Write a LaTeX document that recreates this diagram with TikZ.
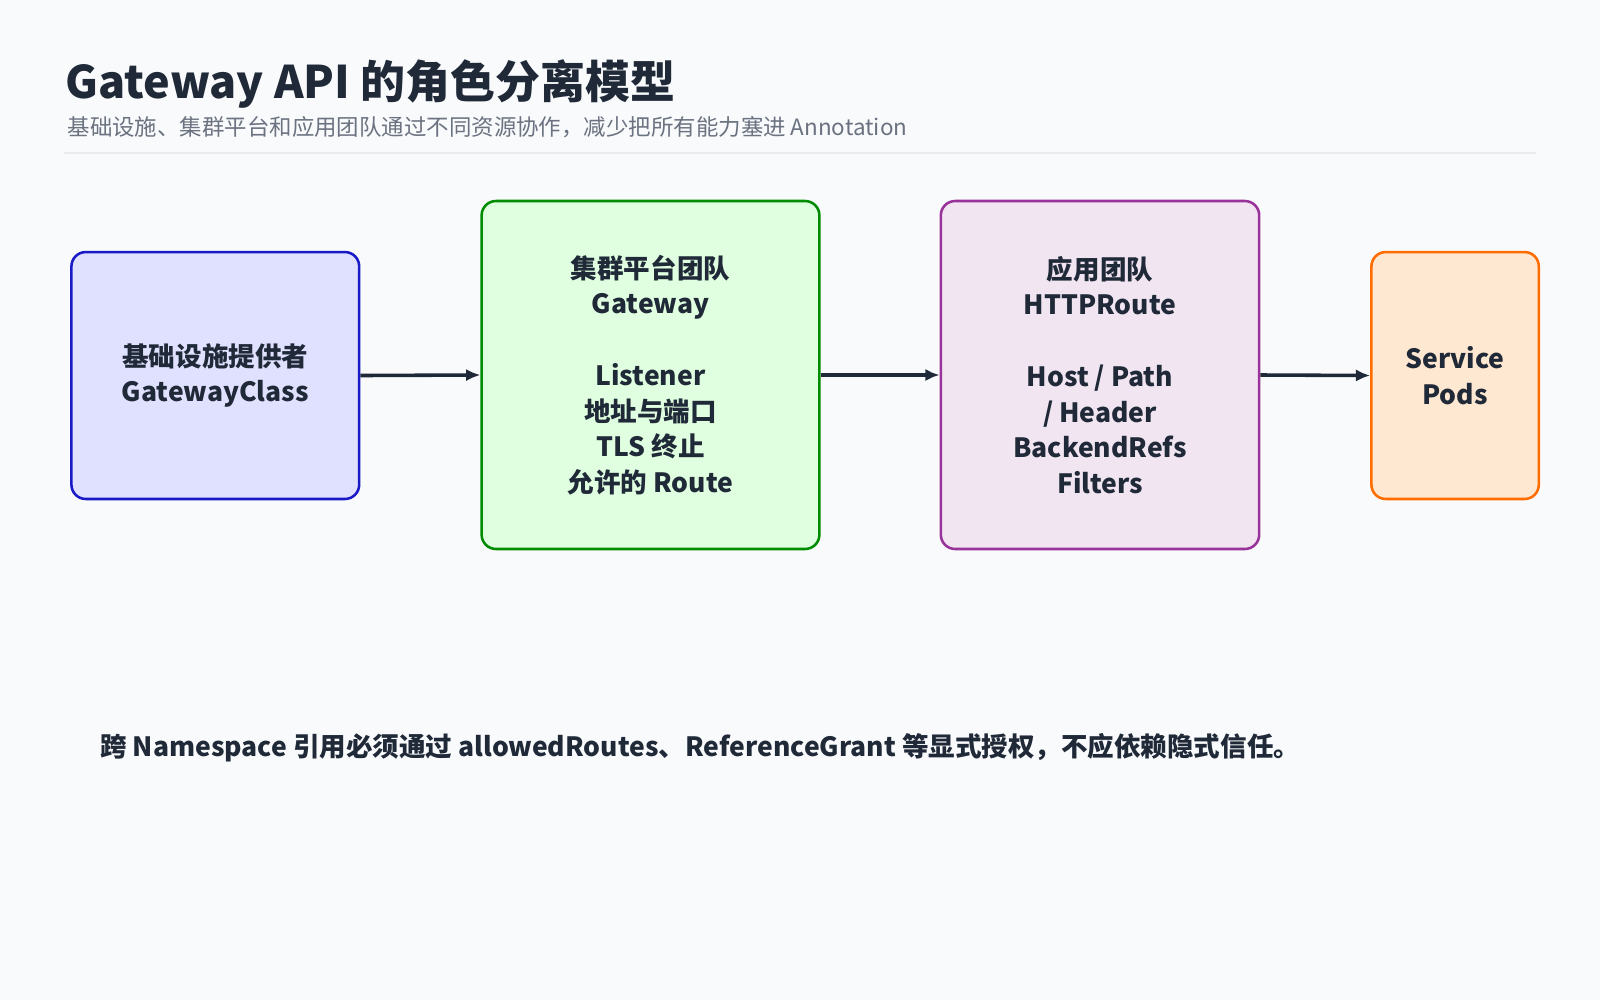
\documentclass[tikz,border=0pt]{standalone}
\usepackage{fontspec}
\setmainfont{Noto Sans CJK SC}
\usetikzlibrary{arrows.meta}
\definecolor{bg}{HTML}{F9FAFC}
\definecolor{ink}{HTML}{1F2937}
\definecolor{sub}{HTML}{6B7280}
\tikzset{
 box/.style={draw, line width=2.5pt, rounded corners=14pt, align=center, text=ink,
   font=\fontsize{26}{35}\selectfont\bfseries, inner sep=0pt},
 arr/.style={-{Latex[length=14pt,width=12pt]}, line width=3.5pt, draw=ink}
}
\begin{document}
\begin{tikzpicture}[x=1pt,y=-1pt]
\useasboundingbox (0,0) rectangle (1568,980);
\fill[bg] (0,0) rectangle (1568,980);
\node[anchor=base west, inner sep=0, text=ink, font=\fontsize{44}{50}\selectfont\bfseries] (t) at (64,97) {Gateway API 的角色分离模型};
\node[anchor=base west, inner sep=0, text=sub, font=\fontsize{22}{26}\selectfont] (s) at (66,133) {基础设施、集群平台和应用团队通过不同资源协作，减少把所有能力塞进 Annotation};
\draw[line width=2pt, draw=black!8] (63,150) -- (1505,150);
\node[box, fill=blue!12, draw=blue!75!black!90, minimum width=282pt, minimum height=242pt] (a) at (211,368) {基础设施提供者\\GatewayClass};
\node[box, fill=green!12, draw=green!55!black, minimum width=331pt, minimum height=341pt] (b) at (637.5,367.5) {集群平台团队\\Gateway\\[35pt]Listener\\地址与端口\\TLS 终止\\允许的 Route};
\node[box, fill=violet!10, draw=violet!80, minimum width=312pt, minimum height=341pt] (c) at (1078,367.5) {应用团队\\HTTPRoute\\[35pt]Host / Path\\/ Header\\BackendRefs\\Filters};
\node[box, fill=orange!18, draw=orange!85!red, minimum width=164pt, minimum height=242pt] (d) at (1426,368) {Service\\Pods};
\draw[arr] (a.east) -- (b.west);
\draw[arr] (b.east) -- (c.west);
\draw[arr] (c.east) -- (d.west);
\node[anchor=base west, inner sep=0, text=ink, font=\fontsize{26}{30}\selectfont\bfseries] (n) at (98,741) {跨 Namespace 引用必须通过 allowedRoutes、ReferenceGrant 等显式授权，不应依赖隐式信任。};
\end{tikzpicture}
\end{document}
